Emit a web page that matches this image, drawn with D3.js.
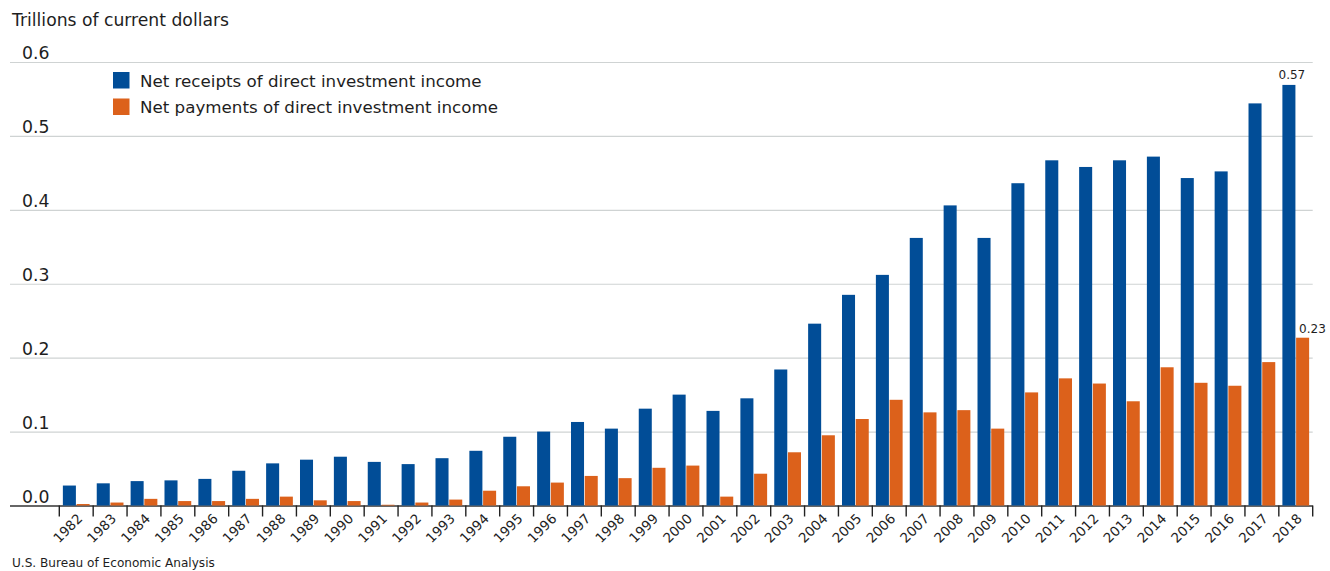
<!DOCTYPE html>
<html>
<head>
<meta charset="utf-8">
<script src="https://cdn.jsdelivr.net/npm/d3@7"></script>
<style>
  html, body { margin: 0; padding: 0; background: #fff; }
  svg { display: block; }
  text { font-family: "DejaVu Sans", "Open Sans", sans-serif; fill: #1e1e1e; }
</style>
</head>
<body>
<svg id="chart" width="1330" height="571"></svg>
<script>
const years = [1982,1983,1984,1985,1986,1987,1988,1989,1990,1991,1992,1993,1994,1995,1996,1997,1998,1999,2000,2001,2002,2003,2004,2005,2006,2007,2008,2009,2010,2011,2012,2013,2014,2015,2016,2017,2018];
const receipts = [0.027,0.030,0.033,0.034,0.036,0.047,0.057,0.062,0.066,0.059,0.056,0.064,0.074,0.093,0.100,0.113,0.104,0.131,0.150,0.128,0.145,0.184,0.246,0.285,0.312,0.362,0.406,0.362,0.436,0.467,0.458,0.467,0.472,0.443,0.452,0.544,0.569];
const payments = [0.002,0.004,0.009,0.006,0.006,0.009,0.012,0.007,0.006,0.001,0.004,0.008,0.020,0.026,0.031,0.040,0.037,0.051,0.054,0.012,0.043,0.072,0.095,0.117,0.143,0.126,0.129,0.104,0.153,0.172,0.165,0.141,0.187,0.166,0.162,0.194,0.227];
const seriesNames = ["Net receipts of direct investment income", "Net payments of direct investment income"];
const seriesColors = ["#014d97", "#dc611b"];
const yTicks = [0, 0.1, 0.2, 0.3, 0.4, 0.5, 0.6];
const yTitle = "Trillions of current dollars";
const source = "U.S. Bureau of Economic Analysis";
const lastReceiptLabel = "0.57";
const lastPaymentLabel = "0.23";

const svg = d3.select("#chart");
const gridLeft = 10, plotLeft = 59.3, plotRight = 1312.7;
const y = d3.scaleLinear().domain([0, 0.6]).range([505.5, 62]);
const x0 = d3.scaleBand().domain(years).range([plotLeft, plotRight]).padding(0);
const x1 = d3.scaleBand().domain([0, 1]).range([0, x0.bandwidth()]).paddingInner(0.05).paddingOuter(0.26);

// gridlines
const yAxis = d3.axisLeft(y).tickValues(yTicks).tickSize(-(plotRight - gridLeft)).tickFormat("");
const gy = svg.append("g").attr("transform", `translate(${gridLeft},0)`).call(yAxis);
gy.select(".domain").remove();
gy.selectAll(".tick line").attr("stroke", "#cfd3d3").attr("stroke-width", 1.2);
gy.selectAll(".tick").filter(d => d === 0).select("line").attr("stroke", "#333").attr("stroke-width", 1.4);

// y labels
svg.append("g").selectAll("text").data(yTicks).join("text")
  .attr("x", 22).attr("y", d => y(d) - 3)
  .attr("font-size", 17.3)
  .text(d => d3.format(".1f")(d));

// y title
svg.append("text").attr("x", 12).attr("y", 26).attr("font-size", 17.2).text(yTitle);

// bars
const data = years.map((yr, i) => ({ year: yr, vals: [receipts[i], payments[i]] }));
const groups = svg.append("g").selectAll("g").data(data).join("g")
  .attr("transform", d => `translate(${x0(d.year)},0)`);
groups.selectAll("rect").data(d => d.vals.map((v, k) => ({ k, v }))).join("rect")
  .attr("x", d => x1(d.k))
  .attr("width", x1.bandwidth())
  .attr("y", d => y(d.v))
  .attr("height", d => y(0) - y(d.v))
  .attr("fill", d => seriesColors[d.k]);

// x ticks at band boundaries
const tickPositions = years.map(yr => x0(yr)).concat([plotRight]);
svg.append("g").selectAll("line").data(tickPositions).join("line")
  .attr("x1", d => d).attr("x2", d => d)
  .attr("y1", y(0)).attr("y2", y(0) + 11)
  .attr("stroke", "#222").attr("stroke-width", 1.4);

// x labels via axis
const xAxis = d3.axisBottom(x0).tickSize(0).tickFormat(d => String(d));
const gx = svg.append("g").attr("transform", `translate(0,${y(0)})`).call(xAxis);
gx.select(".domain").remove();
gx.selectAll(".tick text")
  .attr("text-anchor", "end")
  .attr("font-size", 13.5)
  .attr("font-family", '"DejaVu Sans", sans-serif')
  .attr("fill", "#1e1e1e")
  .attr("dy", 0).attr("y", 0)
  .attr("transform", "translate(7,14) rotate(-45)");

// value annotations
const last = years.length - 1;
svg.append("text")
  .attr("x", x0(years[last]) + x1(0) + x1.bandwidth() / 2 + 3)
  .attr("y", y(receipts[last]) - 6)
  .attr("text-anchor", "middle").attr("font-size", 12)
  .text(lastReceiptLabel);
svg.append("text")
  .attr("x", x0(years[last]) + x1(1) + 3)
  .attr("y", y(payments[last]) - 5)
  .attr("font-size", 12)
  .text(lastPaymentLabel);

// legend
const legend = svg.append("g").attr("transform", "translate(113,72)");
seriesNames.forEach((name, k) => {
  legend.append("rect").attr("x", 0).attr("y", k * 26.5).attr("width", 16.5).attr("height", 16.5).attr("fill", seriesColors[k]);
  legend.append("text").attr("x", 27).attr("y", k * 26.5 + 14.8).attr("font-size", 16.7).text(name);
});

// source
svg.append("text").attr("x", 12).attr("y", 567).attr("font-size", 12.1).attr("fill", "#444").text(source);
</script>
</body>
</html>
